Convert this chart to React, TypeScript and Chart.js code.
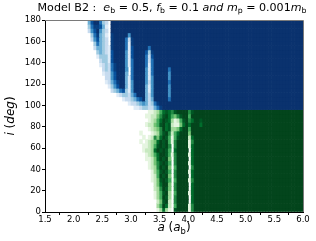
import React, { useEffect, useRef } from 'react';
import { Chart, registerables } from 'chart.js';

Chart.register(...registerables);

// ---- grid definition -------------------------------------------------------
const A_MIN = 1.5;
const A_MAX = 6.0;
const A_STEP = 0.05; // 90 columns
const I_MIN = 0;
const I_MAX = 180;
const I_STEP = 4; // 45 rows

const A_TICKS = [1.5, 2.0, 2.5, 3.0, 3.5, 4.0, 4.5, 5.0, 5.5, 6.0];
const I_TICKS = [0, 20, 40, 60, 80, 100, 120, 140, 160, 180];

// colour levels 0 (unstable, white) .. 9 (fully stable)
const BLUES = ['rgba(0,0,0,0)', '#deebf7', '#c6dbef', '#9ecae1', '#6baed6', '#4292c6', '#2171b5', '#08519c', '#083f80', '#0a326e'];
const GREENS = ['rgba(0,0,0,0)', '#e5f5e0', '#c7e9c0', '#a1d99b', '#74c476', '#41ab5d', '#238b45', '#006d2c', '#005724', '#03451c'];

// retrograde rows, i = 178 (top) .. 98 ; each string = 90 columns a = 1.5 .. 6.0
const BLUE_ROWS = [
  '000000 000000 000479 963209 999999 999999 999999 999999 999999 999999 999999 999999 999999 999999 999999',
  '000000 000000 000368 874109 999999 999999 999999 999999 999999 999999 999999 999999 999999 999999 999999',
  '000000 000000 000257 953209 999999 999999 999999 999999 999999 999999 999999 999999 999999 999999 999999',
  '000000 000000 000036 843108 999995 999999 999999 999999 999999 999999 999999 999999 999999 999999 999999',
  '000000 000000 000025 743208 999962 899999 999999 999999 999999 999999 999999 999999 999999 999999 999999',
  '000000 000000 000003 643208 999961 899999 999999 999999 999999 999999 999999 999999 999999 999999 999999',
  '000000 000000 000002 443218 999961 799999 699999 999999 999999 999999 999999 999999 999999 999999 999999',
  '000000 000000 000000 343217 999951 799997 389999 999999 999999 999999 999999 999999 999999 999999 999999',
  '000000 000000 000000 133317 999951 799996 279999 999999 999999 999999 999999 999999 999999 999999 999999',
  '000000 000000 000000 023317 999951 699996 269999 999999 999999 999999 999999 999999 999999 999999 999999',
  '000000 000000 000000 012326 899951 699996 169999 999999 999999 999999 999999 999999 999999 999999 999999',
  '000000 000000 000000 002326 899950 699995 169999 969999 999999 999999 999999 999999 999999 999999 999999',
  '000000 000000 000000 001225 799940 699995 169999 959999 999999 999999 999999 999999 999999 999999 999999',
  '000000 000000 000000 000225 799941 699995 159999 959999 999999 999999 999999 999999 999999 999999 999999',
  '000000 000000 000000 000124 689941 599995 259999 969999 999999 999999 999999 999999 999999 999999 999999',
  '000000 000000 000000 000013 579941 599994 159999 959999 999999 999999 999999 999999 999999 999999 999999',
  '000000 000000 000000 000002 346731 599994 159999 959999 999999 999999 999999 999999 999999 999999 999999',
  '000000 000000 000000 000000 012332 469994 259999 959999 999999 999999 999999 999999 999999 999999 999999',
  '000000 000000 000000 000000 000122 346794 249999 969999 999999 999999 999999 999999 999999 999999 999999',
  '000000 000000 000000 000000 000001 223454 236899 999999 999999 999999 999999 999999 999999 999999 999999',
  '000000 000000 000000 000000 000000 011233 224689 999999 999999 999999 999999 999999 999999 999999 999999',
];

// prograde rows, i = 94 (top) .. 2
const GREEN_ROWS = [
  '000000 000000 000000 000000 000000 000000 112357 876899 996899 999999 999999 999999 999999 999999 999999',
  '000000 000000 000000 000000 000000 000001 122468 975468 995999 999999 999999 999999 999999 999999 999999',
  '000000 000000 000000 000000 000000 000000 123579 873125 896799 899999 999999 999999 999999 999999 999999',
  '000000 000000 000000 000000 000000 000001 224589 782114 797999 799999 999999 999999 999999 999999 999999',
  '000000 000000 000000 000000 000000 000000 123469 783347 995999 999999 999999 999999 999999 999999 999999',
  '000000 000000 000000 000000 000000 000100 012368 962579 994999 999999 999999 999999 999999 999999 999999',
  '000000 000000 000000 000000 000000 000010 126479 851589 992799 999999 999999 999999 999999 999999 999999',
  '000000 000000 000000 000000 000000 000101 234798 951699 991699 999999 999999 999999 999999 999999 999999',
  '000000 000000 000000 000000 000000 000011 235898 960699 991799 999999 999999 999999 999999 999999 999999',
  '000000 000000 000000 000000 000000 000012 237989 850799 990799 999999 999999 999999 999999 999999 999999',
  '000000 000000 000000 000000 000000 000001 235799 851699 991799 999999 999999 999999 999999 999999 999999',
  '000000 000000 000000 000000 000000 000001 124798 940699 990799 999999 999999 999999 999999 999999 999999',
  '000000 000000 000000 000000 000000 000000 124689 850699 991799 999999 999999 999999 999999 999999 999999',
  '000000 000000 000000 000000 000000 000000 123698 940599 990699 999999 999999 999999 999999 999999 999999',
  '000000 000000 000000 000000 000000 000000 013589 850699 991799 999999 999999 999999 999999 999999 999999',
  '000000 000000 000000 000000 000000 000000 012598 940699 990799 999999 999999 999999 999999 999999 999999',
  '000000 000000 000000 000000 000000 000000 012489 850599 991699 999999 999999 999999 999999 999999 999999',
  '000000 000000 000000 000000 000000 000000 002479 940699 990799 999999 999999 999999 999999 999999 999999',
  '000000 000000 000000 000000 000000 000000 002369 840699 990799 999999 999999 999999 999999 999999 999999',
  '000000 000000 000000 000000 000000 000000 001358 930599 991799 999999 999999 999999 999999 999999 999999',
  '000000 000000 000000 000000 000000 000000 001359 830699 990799 999999 999999 999999 999999 999999 999999',
  '000000 000000 000000 000000 000000 000000 000248 920699 990799 999999 999999 999999 999999 999999 999999',
  '000000 000000 000000 000000 000000 000000 000359 720599 991699 999999 999999 999999 999999 999999 999999',
  '000000 000000 000000 000000 000000 000000 000137 310899 991699 999999 999999 999999 999999 999999 999999',
];

// ---- rich text (title / axis labels) ---------------------------------------
type Seg = { t: string; s: 'n' | 'i' | 's' };
const TITLE: Seg[] = [
  { t: 'Model B2 :  ', s: 'n' },
  { t: 'e', s: 'i' }, { t: 'b', s: 's' }, { t: ' = 0.5, ', s: 'n' },
  { t: 'f', s: 'i' }, { t: 'b', s: 's' }, { t: ' = 0.1 ', s: 'n' },
  { t: 'and', s: 'i' }, { t: ' ', s: 'n' },
  { t: 'm', s: 'i' }, { t: 'p', s: 's' }, { t: ' = 0.001', s: 'n' },
  { t: 'm', s: 'i' }, { t: 'b', s: 's' },
];
const X_LABEL: Seg[] = [
  { t: 'a', s: 'i' }, { t: ' (', s: 'n' }, { t: 'a', s: 'i' }, { t: 'b', s: 's' }, { t: ')', s: 'n' },
];
const Y_LABEL: Seg[] = [
  { t: 'i', s: 'i' }, { t: ' (', s: 'n' }, { t: 'deg', s: 'i' }, { t: ')', s: 'n' },
];

const FAMILY = '"DejaVu Sans"';

function segFont(seg: Seg, size: number) {
  if (seg.s === 'i') return `italic ${size}px ${FAMILY}`;
  if (seg.s === 's') return `${size * 0.7}px ${FAMILY}`;
  return `${size}px ${FAMILY}`;
}

function drawRich(ctx: CanvasRenderingContext2D, segs: Seg[], cx: number, baseline: number, size: number) {
  let total = 0;
  const widths = segs.map((sg) => {
    ctx.font = segFont(sg, size);
    const w = ctx.measureText(sg.t).width;
    total += w;
    return w;
  });
  let x = cx - total / 2;
  ctx.textBaseline = 'alphabetic';
  ctx.textAlign = 'left';
  segs.forEach((sg, k) => {
    ctx.font = segFont(sg, size);
    ctx.fillText(sg.t, x, sg.s === 's' ? baseline + size * 0.22 : baseline);
    x += widths[k];
  });
}

const decorPlugin = {
  id: 'decor',
  afterDraw(chart: any) {
    const ctx: CanvasRenderingContext2D = chart.ctx;
    const ca = chart.chartArea;
    ctx.save();
    // top & right spines
    ctx.strokeStyle = '#7a7a7a';
    ctx.lineWidth = 1;
    ctx.beginPath();
    ctx.moveTo(ca.left, Math.floor(ca.top) + 0.5);
    ctx.lineTo(Math.floor(ca.right) + 0.5, Math.floor(ca.top) + 0.5);
    ctx.lineTo(Math.floor(ca.right) + 0.5, ca.bottom);
    ctx.stroke();
    ctx.fillStyle = '#000';
    const cx = (ca.left + ca.right) / 2;
    drawRich(ctx, TITLE, cx - 2, 11, 11.1);
    drawRich(ctx, X_LABEL, cx, 231, 12);
    ctx.translate(14, (ca.top + ca.bottom) / 2);
    ctx.rotate(-Math.PI / 2);
    drawRich(ctx, Y_LABEL, 0, 0, 12);
    ctx.restore();
  },
};

function buildDatasets() {
  const rows = [
    ...BLUE_ROWS.map((r) => ({ r, pal: BLUES })),
    ...GREEN_ROWS.map((r) => ({ r, pal: GREENS })),
  ];
  return rows.map(({ r, pal }, k) => {
    const levels = r.replace(/ /g, '').split('').map(Number);
    const hi = I_MAX - I_STEP * k;
    const lo = hi - I_STEP;
    return {
      data: levels.map((_, c) => ({ x: A_MIN + A_STEP * (c + 0.5), y: [lo, hi] })),
      backgroundColor: levels.map((v) => pal[v]),
      borderWidth: 0,
      grouped: false,
      barPercentage: 1,
      categoryPercentage: 1,
    };
  });
}

export default function App() {
  const ref = useRef<HTMLCanvasElement>(null);
  useEffect(() => {
    document.body.style.margin = '0';
    const canvas = ref.current!;
    const tickFont = { family: FAMILY, size: 8.5 };
    const chart = new Chart(canvas, {
      type: 'bar',
      data: { datasets: buildDatasets() as any },
      plugins: [decorPlugin],
      options: {
        animation: false,
        responsive: false,
        devicePixelRatio: 1,
        events: [],
        layout: { padding: { top: 20, right: 13, left: 0, bottom: 0 } },
        plugins: { legend: { display: false }, tooltip: { enabled: false }, title: { display: false } },
        scales: {
          x: {
            type: 'linear',
            min: A_MIN,
            max: A_MAX,
            offset: false,
            afterBuildTicks: (s: any) => { s.ticks = A_TICKS.map((v) => ({ value: v })); },
            afterFit: (s: any) => { s.height = 29; },
            ticks: { autoSkip: false, maxRotation: 0, font: tickFont, color: '#000', padding: 0, callback: (v: any) => Number(v).toFixed(1) },
            grid: { drawOnChartArea: false, drawTicks: true, tickLength: 3, color: '#000' },
            border: { display: true, color: '#000', width: 1 },
          },
          y: {
            type: 'linear',
            min: I_MIN,
            max: I_MAX,
            afterBuildTicks: (s: any) => { s.ticks = I_TICKS.map((v) => ({ value: v })); },
            afterFit: (s: any) => { s.width = 45; },
            ticks: { autoSkip: false, font: tickFont, color: '#000', padding: 1, callback: (v: any) => String(v) },
            grid: { drawOnChartArea: false, drawTicks: true, tickLength: 3, color: '#000' },
            border: { display: true, color: '#000', width: 1 },
          },
        },
      } as any,
    });
    return () => chart.destroy();
  }, []);
  return (
    <div style={{ position: 'absolute', left: 0, top: 0, width: 316, height: 241 }}>
      <canvas ref={ref} width={316} height={241} style={{ display: 'block', width: 316, height: 241 }} />
    </div>
  );
}
